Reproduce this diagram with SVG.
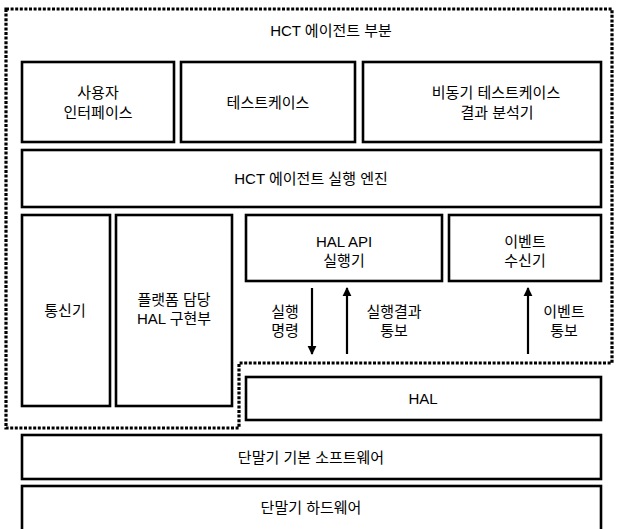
<svg xmlns="http://www.w3.org/2000/svg" width="617" height="529" viewBox="0 0 617 529">
<style>
.box{fill:#fff;stroke:#000;stroke-width:2.6}
.dot{fill:none;stroke:#000;stroke-width:3.2;stroke-dasharray:3 1.6}
text{font-family:"Liberation Sans","Noto Sans CJK KR",sans-serif;font-size:15px;fill:#000;text-anchor:middle}
.arr{stroke:#000;stroke-width:2.2;fill:none}
</style>
<defs>
<marker id="ah" viewBox="0 0 10 10" refX="9" refY="5" markerWidth="4" markerHeight="4.5" orient="auto" markerUnits="strokeWidth">
<path d="M0,0 L10,5 L0,10 z" fill="#000"/>
</marker>
</defs>
<rect width="617" height="529" fill="#fff"/>
<g id="agent-boundary">
<path class="dot" d="M6,9 H612 V363 H239 V428 H6 Z"/>
<text x="331" y="36">HCT 에이전트 부분</text>
</g>
<g id="ui"><rect class="box" x="22" y="62" width="152" height="80"/><text x="98" y="98">사용자</text><text x="98" y="118">인터페이스</text></g>
<g id="testcase"><rect class="box" x="181" y="62" width="174" height="80"/><text x="268" y="108">테스트케이스</text></g>
<g id="async"><rect class="box" x="363" y="62" width="238" height="80"/><text x="496" y="98">비동기 테스트케이스</text><text x="497" y="118">결과 분석기</text></g>
<g id="engine"><rect class="box" x="22" y="150" width="579" height="57"/><text x="311" y="184">HCT 에이전트 실행 엔진</text></g>
<g id="comm"><rect class="box" x="22" y="215" width="88" height="191"/><text x="65" y="316">통신기</text></g>
<g id="platform"><rect class="box" x="116" y="215" width="116" height="191"/><text x="174" y="305">플랫폼 담당</text><text x="174" y="324">HAL 구현부</text></g>
<g id="halapi"><rect class="box" x="246" y="215" width="196" height="66"/><text x="344" y="247">HAL API</text><text x="344" y="266">실행기</text></g>
<g id="event"><rect class="box" x="449" y="215" width="152" height="66"/><text x="525" y="247">이벤트</text><text x="525" y="266">수신기</text></g>
<g id="hal"><rect class="box" x="246" y="377" width="355" height="43"/><text x="423" y="404">HAL</text></g>
<g id="basesw"><rect class="box" x="22" y="435" width="579" height="44"/><text x="311" y="463">단말기 기본 소프트웨어</text></g>
<g id="hw"><rect class="box" x="22" y="486" width="579" height="50"/><text x="311" y="513">단말기 하드웨어</text></g>
<g id="connectors">
<line class="arr" x1="312" y1="288" x2="312" y2="354" marker-end="url(#ah)"/>
<line class="arr" x1="347" y1="354" x2="347" y2="288" marker-end="url(#ah)"/>
<line class="arr" x1="528" y1="354" x2="528" y2="288" marker-end="url(#ah)"/>
<text x="285" y="317">실행</text><text x="285" y="336">명령</text>
<text x="394" y="317">실행결과</text><text x="394" y="336">통보</text>
<text x="564" y="317">이벤트</text><text x="564" y="336">통보</text>
</g>
</svg>
